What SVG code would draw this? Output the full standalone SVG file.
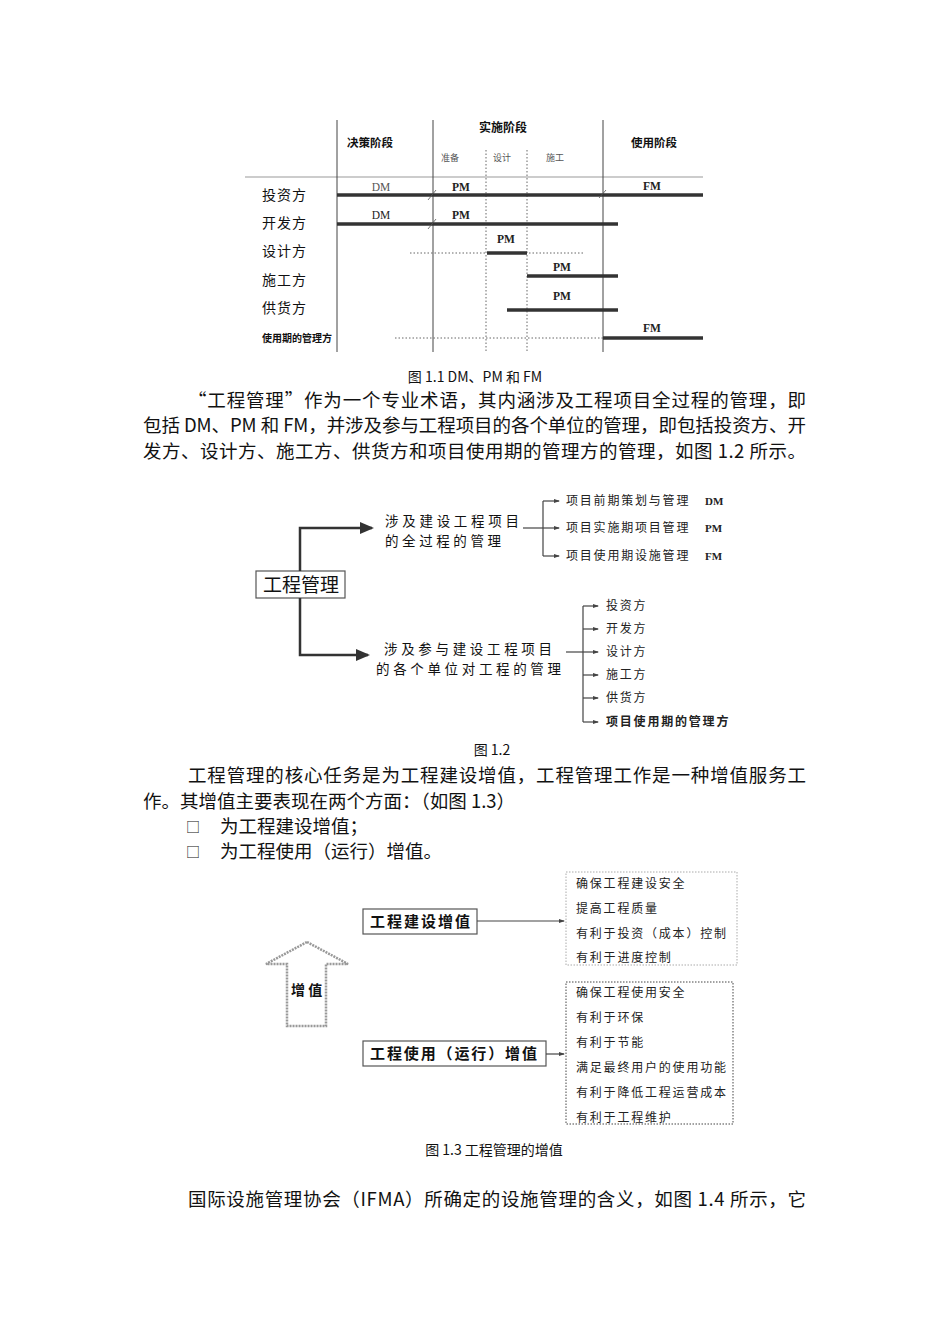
<svg xmlns="http://www.w3.org/2000/svg" width="950" height="1344" viewBox="0 0 950 1344">
<defs>
<marker id="ah" markerWidth="8" markerHeight="8" refX="7" refY="4" orient="auto" markerUnits="userSpaceOnUse"><path d="M0,0.5 L8,4 L0,7.5 z" fill="#333"/></marker>
<marker id="ahs" markerWidth="6" markerHeight="6" refX="5" refY="3" orient="auto" markerUnits="userSpaceOnUse"><path d="M0,1 L6,3 L0,5 z" fill="#444"/></marker>
<marker id="ahb" markerWidth="14" markerHeight="12" refX="12" refY="6" orient="auto" markerUnits="userSpaceOnUse"><path d="M0,0 L14,6 L0,12 z" fill="#333"/></marker>
</defs>
<style>
.cj{font-family:"Noto Sans CJK SC","Noto Sans CJK JP",sans-serif;fill:#111}
.body{font-size:18.5px}
.cap{font-size:14px}
.lat{font-family:"Liberation Serif",serif;fill:#222}
.bar{stroke:#333;stroke-width:3.5;fill:none}
.vl{stroke:#444;stroke-width:1;fill:none}
.dv{stroke:#666;stroke-width:1;stroke-dasharray:1.5 2;fill:none}
.thin{stroke:#444;stroke-width:1.2;fill:none}
.br{stroke:#333;stroke-width:2.5;fill:none}
.sm{font-size:12px;letter-spacing:1.8px;fill:#222}
</style>
<rect width="950" height="1344" fill="#fff"/>

<!-- Figure 1.1 -->
<g id="fig11">
<line x1="245" y1="177" x2="703" y2="177" stroke="#999" stroke-width="1.2"/>
<line class="vl" x1="337" y1="120" x2="337" y2="352"/>
<line class="vl" x1="433" y1="120" x2="433" y2="352"/>
<line class="vl" x1="603" y1="120" x2="603" y2="352"/>
<line class="dv" x1="486" y1="150" x2="486" y2="352"/>
<line class="dv" x1="527" y1="150" x2="527" y2="352"/>
<text class="cj" x="370" y="147" font-size="11.5" font-weight="bold" text-anchor="middle">决策阶段</text>
<text class="cj" x="503" y="132" font-size="12" font-weight="bold" text-anchor="middle">实施阶段</text>
<text class="cj" x="654" y="147" font-size="11.5" font-weight="bold" text-anchor="middle">使用阶段</text>
<text class="cj" x="450" y="161" font-size="9" text-anchor="middle" style="fill:#555">准备</text>
<text class="cj" x="502" y="161" font-size="9" text-anchor="middle" style="fill:#555">设计</text>
<text class="cj" x="555" y="161" font-size="9" text-anchor="middle" style="fill:#555">施工</text>
<g font-size="14" letter-spacing="1">
<text class="cj" x="262" y="200">投资方</text>
<text class="cj" x="262" y="228">开发方</text>
<text class="cj" x="262" y="256">设计方</text>
<text class="cj" x="262" y="285">施工方</text>
<text class="cj" x="262" y="313">供货方</text>
</g>
<text class="cj" x="262" y="342" font-size="10" font-weight="bold">使用期的管理方</text>
<line class="bar" x1="337" y1="195" x2="703" y2="195"/>
<line class="bar" x1="337" y1="224" x2="618" y2="224"/>
<line class="dv" x1="410" y1="253" x2="585" y2="253"/>
<line class="bar" x1="487" y1="253" x2="527" y2="253"/>
<line class="bar" x1="527" y1="276" x2="618" y2="276"/>
<line class="bar" x1="507" y1="310" x2="618" y2="310"/>
<line class="dv" x1="395" y1="338" x2="603" y2="338"/>
<line class="bar" x1="603" y1="338" x2="703" y2="338"/>
<line x1="428" y1="200" x2="436" y2="190" stroke="#555" stroke-width="0.8"/>
<line x1="428" y1="229" x2="436" y2="219" stroke="#555" stroke-width="0.8"/>
<line x1="599" y1="198" x2="606" y2="190" stroke="#555" stroke-width="0.8"/>
<g class="lat" font-size="11.5" text-anchor="middle">
<text x="381" y="191" fill="#555">DM</text>
<text x="461" y="191" font-weight="bold">PM</text>
<text x="652" y="190" font-weight="bold">FM</text>
<text x="381" y="219">DM</text>
<text x="461" y="219" font-weight="bold">PM</text>
<text x="506" y="243" font-weight="bold">PM</text>
<text x="562" y="271" font-weight="bold">PM</text>
<text x="562" y="300" font-weight="bold">PM</text>
<text x="652" y="332" font-weight="bold">FM</text>
</g>
</g>

<text class="cj cap" x="475" y="382" text-anchor="middle">图 1.1 DM、PM 和 FM</text>

<g id="para1" class="cj body">
<text x="188" y="407" textLength="618" lengthAdjust="spacing">“工程管理”作为一个专业术语，其内涵涉及工程项目全过程的管理，即</text>
<text x="143" y="432" textLength="663" lengthAdjust="spacing">包括 DM、PM 和 FM，并涉及参与工程项目的各个单位的管理，即包括投资方、开</text>
<text x="143" y="458" textLength="663" lengthAdjust="spacing">发方、设计方、施工方、供货方和项目使用期的管理方的管理，如图 1.2 所示。</text>
</g>

<!-- Figure 1.2 -->
<g id="fig12-root">
<rect x="256" y="571" width="89" height="27" fill="#fff" stroke="#555" stroke-width="1.2"/>
<text class="cj" x="301" y="592" font-size="19" text-anchor="middle">工程管理</text>
</g>
<g id="fig12-a">
<text class="cj" x="385" y="526" font-size="13.5" textLength="134" lengthAdjust="spacing">涉及建设工程项目</text>
<text class="cj" x="385" y="546" font-size="13.5" textLength="116" lengthAdjust="spacing">的全过程的管理</text>
</g>
<g id="fig12-b">
<text class="cj" x="384" y="654" font-size="13.5" textLength="168" lengthAdjust="spacing">涉及参与建设工程项目</text>
<text class="cj" x="376" y="674" font-size="13.5" textLength="185" lengthAdjust="spacing">的各个单位对工程的管理</text>
</g>
<g id="fig12-list1">
<text class="cj sm" x="566" y="505">项目前期策划与管理</text>
<text class="cj sm" x="566" y="532">项目实施期项目管理</text>
<text class="cj sm" x="566" y="560">项目使用期设施管理</text>
<text class="lat" x="705" y="505" font-size="11" font-weight="bold">DM</text>
<text class="lat" x="705" y="532" font-size="11" font-weight="bold">PM</text>
<text class="lat" x="705" y="560" font-size="11" font-weight="bold">FM</text>
</g>
<g id="fig12-list2">
<text class="cj sm" x="606" y="610">投资方</text>
<text class="cj sm" x="606" y="633">开发方</text>
<text class="cj sm" x="606" y="656">设计方</text>
<text class="cj sm" x="606" y="679">施工方</text>
<text class="cj sm" x="606" y="702">供货方</text>
<text class="cj sm" x="606" y="726" font-weight="bold">项目使用期的管理方</text>
</g>
<g id="fig12-connectors">
<path class="br" d="M300,571 V528 H372" marker-end="url(#ahb)"/>
<path class="br" d="M300,598 V655 H368" marker-end="url(#ahb)"/>
<path class="thin" d="M523,528 H543"/>
<path class="thin" d="M543,501 V556"/>
<path class="thin" d="M543,501 H559" marker-end="url(#ahs)"/>
<path class="thin" d="M543,528 H559" marker-end="url(#ahs)"/>
<path class="thin" d="M543,556 H559" marker-end="url(#ahs)"/>
<path class="thin" d="M566,652 H583"/>
<path class="thin" d="M583,606 V722"/>
<path class="thin" d="M583,606 H598" marker-end="url(#ahs)"/>
<path class="thin" d="M583,629 H598" marker-end="url(#ahs)"/>
<path class="thin" d="M583,652 H598" marker-end="url(#ahs)"/>
<path class="thin" d="M583,675 H598" marker-end="url(#ahs)"/>
<path class="thin" d="M583,698 H598" marker-end="url(#ahs)"/>
<path class="thin" d="M583,722 H598" marker-end="url(#ahs)"/>
</g>

<text class="cj cap" x="492" y="755" text-anchor="middle">图 1.2</text>

<g id="para2" class="cj body">
<text x="188" y="782" textLength="618" lengthAdjust="spacing">工程管理的核心任务是为工程建设增值，工程管理工作是一种增值服务工</text>
<text x="143" y="808">作。其增值主要表现在两个方面：（如图 1.3）</text>
<text x="186" y="832" font-size="14">□</text>
<text x="220" y="833">为工程建设增值；</text>
<text x="186" y="857" font-size="14">□</text>
<text x="220" y="858">为工程使用（运行）增值。</text>
</g>

<!-- Figure 1.3 -->
<g id="fig13-arrow">
<path d="M307,942 L348,964 L326,964 L326,1026 L287,1026 L287,964 L266,964 Z" fill="#fff" stroke="#999" stroke-width="2.5" stroke-dasharray="2 1"/>
<text class="cj" x="291" y="995" font-size="14" font-weight="bold">增 值</text>
</g>
<g id="fig13-box1">
<rect x="363" y="909" width="114" height="25" fill="#fff" stroke="#555" stroke-width="1.2"/>
<text class="cj" x="370" y="927" font-size="15" font-weight="bold" textLength="100" lengthAdjust="spacing">工程建设增值</text>
</g>
<g id="fig13-box2">
<rect x="363" y="1041" width="183" height="25" fill="#fff" stroke="#555" stroke-width="1.2"/>
<text class="cj" x="370" y="1059" font-size="15" font-weight="bold" textLength="167" lengthAdjust="spacing">工程使用（运行）增值</text>
</g>
<g id="fig13-list1">
<rect x="566" y="872" width="171" height="93" fill="none" stroke="#aaa" stroke-width="1" stroke-dasharray="1.5 1.5"/>
<text class="cj sm" x="576" y="888">确保工程建设安全</text>
<text class="cj sm" x="576" y="913">提高工程质量</text>
<text class="cj sm" x="576" y="938">有利于投资（成本）控制</text>
<text class="cj sm" x="576" y="962">有利于进度控制</text>
</g>
<g id="fig13-list2">
<rect x="566" y="982" width="167" height="142" fill="none" stroke="#444" stroke-width="1" stroke-dasharray="1.5 1.5"/>
<text class="cj sm" x="576" y="997">确保工程使用安全</text>
<text class="cj sm" x="576" y="1022">有利于环保</text>
<text class="cj sm" x="576" y="1047">有利于节能</text>
<text class="cj sm" x="576" y="1072">满足最终用户的使用功能</text>
<text class="cj sm" x="576" y="1097">有利于降低工程运营成本</text>
<text class="cj sm" x="576" y="1122">有利于工程维护</text>
</g>
<g id="fig13-connectors">
<path class="thin" d="M477,921 H564" marker-end="url(#ahs)"/>
<path class="thin" d="M546,1054 H564" marker-end="url(#ahs)"/>
</g>

<text class="cj cap" x="494" y="1155" text-anchor="middle">图 1.3 工程管理的增值</text>

<text class="cj body" x="188" y="1206" textLength="618" lengthAdjust="spacing">国际设施管理协会（IFMA）所确定的设施管理的含义，如图 1.4 所示，它</text>
</svg>
